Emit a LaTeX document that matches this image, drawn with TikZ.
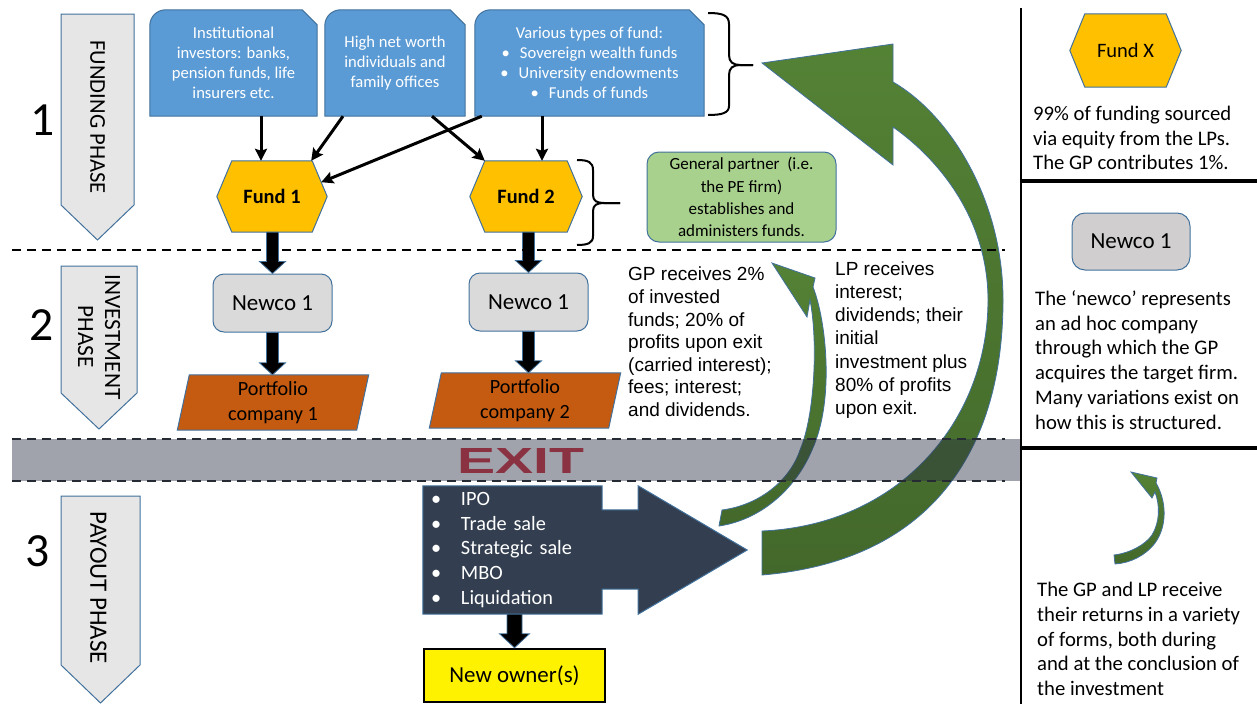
\documentclass[tikz,border=0pt]{standalone}
\usepackage{fontspec}
\usepackage{graphicx}
\setmainfont{Carlito}
\newfontfamily\arialf{Liberation Sans}
\usetikzlibrary{calc,arrows.meta}
\pgfdeclarelayer{bg}
\pgfsetlayers{bg,main}
\definecolor{bluefill}{HTML}{5B9BD5}
\definecolor{blueline}{HTML}{41719C}
\definecolor{gold}{HTML}{FFC000}
\definecolor{greybox}{HTML}{DADADA}
\definecolor{greybox2}{HTML}{D0CECE}
\definecolor{gpgreen}{HTML}{A9D18E}
\definecolor{portf}{HTML}{C55A11}
\definecolor{navy}{HTML}{333F50}
\definecolor{phasefill}{HTML}{E7E6E6}
\definecolor{arrgreenA}{HTML}{548235}
\definecolor{arrgreenB}{HTML}{43682B}
\definecolor{bandc}{HTML}{2C3444}
\definecolor{dashc}{HTML}{262B33}
\definecolor{exitred}{HTML}{8A3242}
\newcommand\fs[2]{\fontsize{#1}{#2}\selectfont}
\newcommand\snipbox[1]{\draw[blueshape] (#1.south west) -- ($(#1.north west)+(0,16)$) .. controls ($(#1.north west)+(0,7)$) and ($(#1.north west)+(7,0)$) .. ($(#1.north west)+(16,0)$) -- ($(#1.north east)+(-15,0)$) -- ($(#1.north east)+(0,15)$) -- (#1.south east) -- cycle;}
\newcommand\hexshape[1]{\draw[hexstyle] (#1.west) -- ($(#1.north west)+(15,0)$) -- ($(#1.north east)+(-15,0)$) -- (#1.east) -- ($(#1.south east)+(-15,0)$) -- ($(#1.south west)+(15,0)$) -- cycle;}
\newcommand\paral[1]{\draw[portshape] ($(#1.south west)+(-6,0)$) -- ($(#1.north west)+(6,0)$) -- ($(#1.north east)+(6,0)$) -- ($(#1.south east)+(-6,0)$) -- cycle;}
\newcommand\blockdown[5]{\draw[blockarr] ($(#1)+(-#3,0)$) -- ($(#2)+(-#3,-#5)$) -- ($(#2)+(-#4,-#5)$) -- (#2) -- ($(#2)+(#4,-#5)$) -- ($(#2)+(#3,-#5)$) -- ($(#1)+(#3,0)$) -- cycle;}
\begin{document}
\begin{tikzpicture}[x=1pt,y=-1pt,
 thinarr/.style={line width=3pt,-{Stealth[length=12pt,width=12pt,inset=2pt]}},
 blockarr/.style={fill=black,draw=blueline,line width=0.8pt},
 blueshape/.style={fill=bluefill,draw=blueline,line width=1pt},
 hexstyle/.style={fill=gold,draw=blueline,line width=1pt},
 portshape/.style={fill=portf,draw=blueline,line width=1pt},
 bluetxt/.style={inner sep=0,align=center,text=white,font=\fs{16.6}{20}},
 fundtxt/.style={inner sep=0,minimum height=71pt,font=\bfseries\fs{20.4}{24}},
 newcostyle/.style={draw=blueline,fill=greybox,rounded corners=11pt,line width=1pt,minimum width=119pt,minimum height=58pt,inner sep=0,font=\fs{23}{27}},
 portstyle/.style={inner sep=0,minimum width=179pt,minimum height=55pt,align=center,font=\fs{20.2}{25}},
 phase/.style={fill=phasefill,draw=blueline,line width=1pt},
 greenarr/.style={top color=arrgreenA,bottom color=arrgreenB,draw=blueline,line width=0.8pt},
 dashl/.style={draw=dashc,line width=2.2pt,dash pattern=on 9pt off 6pt},
 bracel/.style={line width=2pt},
 rtext/.style={anchor=west,align=left,inner sep=0,font=\fs{20.7}{24.8}},
 gptext/.style={anchor=west,align=left,inner sep=0,font=\arialf\fs{19}{22.6}},
 phasetxt/.style={rotate=-90,align=center,inner sep=0},
 numtxt/.style={inner sep=0,font=\fs{47.6}{50}}
]
\useasboundingbox (0,0) rectangle (1257,704);

% ---------- phase markers ----------
\begin{pgfonlayer}{bg}
\draw[phase] (61,14) -- (134,14) -- (134,205) -- (97.5,240) -- (61,205) -- cycle;
\draw[phase] (61,266) -- (137,266) -- (137,393) -- (99,429) -- (61,393) -- cycle;
\draw[phase] (61,496) -- (140,496) -- (140,665) -- (100.5,703) -- (61,665) -- cycle;
\end{pgfonlayer}
\node[phasetxt,font=\fs{22.6}{26}] (ph1) at (97.5,117) {FUNDING PHASE};
\node[phasetxt,font=\fs{23.3}{27}] (ph2) at (99,337) {INVESTMENT\\PHASE};
\node[phasetxt,font=\fs{25}{29}] (ph3) at (98.5,588) {PAYOUT PHASE};
\node[numtxt] (num1) at (43,120) {1};
\node[numtxt] (num2) at (42,325) {2};
\node[numtxt] (num3) at (38,551) {3};

% ---------- funding sources ----------
\node[bluetxt,minimum width=167pt,minimum height=106pt] (bA) at (233.5,63) {Institutional\\investors: banks,\\pension funds, life\\insurers etc.};
\node[bluetxt,minimum width=140pt,minimum height=106pt] (bB) at (395,63) {High net worth\\individuals and\\family offices};
\node[bluetxt,minimum width=229pt,minimum height=106pt] (bC) at (589.5,63) {Various types of fund:\\•\hspace{10pt}Sovereign wealth funds\\•\hspace{10pt}University endowments\\•\hspace{10pt}Funds of funds};
\node[fundtxt,minimum width=110pt] (f1) at (272,196.5) {Fund 1};
\node[fundtxt,minimum width=112pt] (f2) at (526,196.5) {Fund 2};
\coordinate (f1ne) at ($(f1.north east)+(-15,0)$);
\begin{pgfonlayer}{bg}
\snipbox{bA}
\snipbox{bB}
\snipbox{bC}
\hexshape{f1}
\hexshape{f2}
\end{pgfonlayer}

\draw[thinarr] ($(bA.south)+(27.5,0)$) -- ($(f1.north)+(-11,0)$);
\draw[thinarr] ($(bB.south)+(-52,0)$) -- ($(f1.north east)+(-16,0)$);
\draw[thinarr] ($(bB.south)+(37,0)$) -- ($(f2.north west)+(15,0)$);
\draw[thinarr] ($(bC.south west)+(7,0)$) -- ($(f1.east)!0.4!(f1ne)$);
\draw[thinarr] ($(bC.south)+(-47.5,0)$) -- ($(f2.north)+(16,0)$);

% braces
\draw[bracel] (708,13) .. controls (722,13) and (729,15) .. (729,24) -- (729,55) .. controls (729,62) and (733,65) .. (740,65) -- (753,65);
\draw[bracel] (753,65) -- (740,65) .. controls (733,65) and (729,68) .. (729,75) -- (729,106) .. controls (729,113) and (722,115) .. (708,115);
\draw[bracel] (577,160) .. controls (588,160) and (593,162) .. (593,170) -- (593,195) .. controls (593,201) and (597,203) .. (604,203) -- (620,203);
\draw[bracel] (620,203) -- (604,203) .. controls (597,203) and (593,205) .. (593,211) -- (593,236) .. controls (593,243) and (588,245) .. (577,245);

\node[draw=blueline,fill=gpgreen,rounded corners=12pt,line width=1pt,minimum width=189pt,minimum height=90pt,align=center,inner sep=0,font=\fs{17}{22.3}] (gp) at (741.5,197) {General partner~ (i.e.\\the PE firm)\\establishes and\\administers funds.};

% ---------- investment phase ----------
\node[newcostyle] (n1) at (272.5,303) {Newco 1};
\node[newcostyle] (n2) at (528.5,302) {Newco 1};
\node[portstyle] (p1) at (273,402.5) {Portfolio\\company 1};
\node[portstyle] (p2) at (525,400.5) {Portfolio\\company 2};
\begin{pgfonlayer}{bg}
\paral{p1}
\paral{p2}
\end{pgfonlayer}
\coordinate (a1) at (n1.north |- f1.south);
\coordinate (a2) at (n1.south |- p1.north);
\coordinate (a3) at (n2.north |- f2.south);
\coordinate (a4) at (n2.south |- p2.north);
\blockdown{a1}{n1.north}{6}{13}{12}
\blockdown{n1.south}{a2}{6}{13}{12}
\blockdown{a3}{n2.north}{6}{13}{12}
\blockdown{n2.south}{a4}{6}{13}{12}

\node[gptext] (gpt) at (628,342) {GP receives 2\%\\of invested\\funds; 20\% of\\profits upon exit\\(carried interest);\\fees; interest;\\and dividends.};
\node[gptext,font=\arialf\fs{19}{23.2}] (lpt) at (835,340) {LP receives\\interest;\\dividends; their\\initial\\investment plus\\80\% of profits\\upon exit.};

% ---------- green return arrows ----------
\begin{pgfonlayer}{bg}
\draw[greenarr] (762,63) -- (893,44) -- (893,82) .. controls (950,115) and (1003,200) .. (1003,300) .. controls (1003,440) and (940,560) .. (762,575) -- (762,531) .. controls (900,525) and (988,420) .. (988,300) .. controls (988,220) and (940,160) .. (893,127) -- (893,165) -- cycle;
\draw[greenarr] (772,263) -- (815,278) -- (813,287) .. controls (826,320) and (835,400) .. (812,450) .. controls (795,490) and (760,520) .. (719,526) -- (722,510) .. controls (760,505) and (790,480) .. (800,450) .. controls (815,415) and (818,340) .. (810,300) -- (807,317) -- cycle;
\draw[greenarr] (1131,472) -- (1157,478) -- (1156,483) .. controls (1166,500) and (1168,525) .. (1155,543) .. controls (1145,556) and (1130,563) .. (1115,564) -- (1114,555) .. controls (1130,553) and (1145,545) .. (1152,535) .. controls (1160,522) and (1160,505) .. (1155,492) -- (1152,498) -- cycle;
\end{pgfonlayer}

% ---------- exit band ----------
\fill[bandc,opacity=.45] (12,439) rectangle (1020,481);
\draw[dashl,draw=black] (12,250) -- (1005,250);
\draw[dashl] (12,439) -- (1005,439);
\draw[dashl] (12,481) -- (1005,481);
\node[text=exitred,inner sep=0] (exitlbl) at (520.5,460.5) {\resizebox{127pt}{25pt}{\arialf\bfseries EXIT}};

% ---------- payout ----------
\node[inner xsep=8pt,inner ysep=0,minimum width=179pt,minimum height=128pt,text width=163pt,align=left,text=white,font=\fs{20.3}{24.9}] (ex) at (512.5,550) {\makebox[30pt][l]{•}IPO\\\makebox[30pt][l]{•}Trade sale\\\makebox[30pt][l]{•}Strategic sale\\\makebox[30pt][l]{•}MBO\\\makebox[30pt][l]{•}Liquidation};
\coordinate (extip) at ($(ex.east)+(145,0)$);
\begin{pgfonlayer}{bg}
\draw[fill=navy,draw=blueline,line width=1pt] (ex.north west) -- (ex.north east) -- ($(ex.north east)+(0,24)$) -- ($(ex.north east)+(36,24)$) -- ($(ex.north east)+(36,0)$) -- (extip) -- ($(ex.south east)+(36,0)$) -- ($(ex.south east)+(36,-25)$) -- ($(ex.south east)+(0,-25)$) -- (ex.south east) -- (ex.south west) -- cycle;
\end{pgfonlayer}
\node[draw=black,fill=yellow,line width=2.5pt,minimum width=181pt,minimum height=53pt,inner sep=0,font=\fs{22.9}{27}] (no) at (514.5,675.5) {New owner(s)};
\coordinate (a5) at (no.north |- ex.south);
\blockdown{a5}{no.north}{7.5}{15}{14}

% ---------- right panel ----------
\draw[line width=2.5pt] (1021,8) -- (1021,704);
\draw[line width=3.5pt] (1021,181) -- (1257,181);
\draw[line width=3.5pt] (1021,448) -- (1257,448);
\node[inner sep=0,minimum width=111pt,minimum height=73pt,font=\fs{20.5}{24}] (fx) at (1125.5,50.5) {Fund X};
\begin{pgfonlayer}{bg}
\hexshape{fx}
\end{pgfonlayer}
\node[rtext] (rt1) at (1033,138) {99\% of funding sourced\\via equity from the LPs.\\The GP contributes 1\%.};
\node[newcostyle,fill=greybox2,rounded corners=13pt,minimum width=118pt,minimum height=57pt] (rn) at (1131,241.5) {Newco 1};
\node[rtext] (rt2) at (1035,360) {The ‘newco’ represents\\an ad hoc company\\through which the GP\\acquires the target firm.\\Many variations exist on\\how this is structured.};
\node[rtext] (rt3) at (1037,639) {The GP and LP receive\\their returns in a variety\\of forms, both during\\and at the conclusion of\\the investment};
\end{tikzpicture}
\end{document}
